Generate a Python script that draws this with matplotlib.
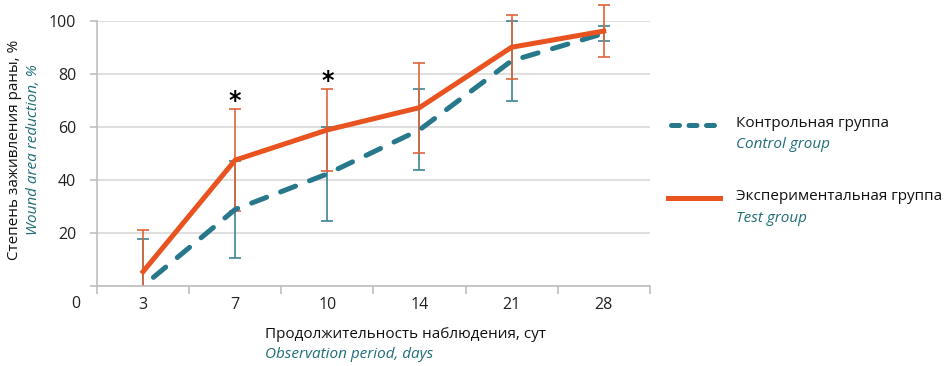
import matplotlib.pyplot as plt
from matplotlib.patches import Rectangle

ORANGE = "#E8531F"
ORANGE_ERR = "#E0643A"
TEAL = "#26788A"
TEAL_ERR = "#3C8494"
TEAL_TXT = "#1E6D78"
GRID = "#D9D9D9"
SPINE = "#BFBFBF"

plt.rcParams.update({"font.family": ["Open Sans", "DejaVu Sans"], "font.size": 11})

days = ["3", "7", "10", "14", "21", "28"]
control = [0, 28.9, 42.3, 58.9, 85.0, 95.3]
control_sd = [17.6, 18.2, 17.6, 15.3, 15.1, 2.8]
test = [5.4, 47.5, 58.9, 67.3, 90.1, 96.2]
test_sd = [15.7, 19.2, 15.4, 17.0, 12.0, 9.8]
star_days = [1, 2]
star_y = [70, 77.5]

fig = plt.figure(figsize=(9.45, 3.66), dpi=100)
ax = fig.add_axes([0.1026, 0.2186, 0.585, 0.724])
x = list(range(len(days)))

# error bars may poke above 100 but stop at the x axis
clip = Rectangle((-0.5, 0), 6, 130, transform=ax.transData)
for mean, sd, col in [(control, control_sd, TEAL_ERR), (test, test_sd, ORANGE_ERR)]:
    eb = ax.errorbar(x, mean, yerr=sd, fmt="none", ecolor=col, elinewidth=1.2,
                     capsize=4.5, capthick=1.2, zorder=2)
    for art in list(eb.lines[1]) + list(eb.lines[2]):
        art.set_clip_path(clip)

ax.plot(x, control, color=TEAL, lw=3.6, ls=(3.5, (3.2, 3.0)), dash_capstyle="round",
        zorder=3)
ax.plot(x, test, color=ORANGE, lw=3.6, zorder=4, solid_joinstyle="miter")

for d, yy in zip(star_days, star_y):
    ax.text(d, yy, "*", ha="center", va="center", fontsize=17, fontweight="bold",
            family="DejaVu Sans")

ax.set_xlim(-0.5, 5.5)
ax.set_ylim(0, 100)
ax.set_yticks([0, 20, 40, 60, 80, 100])
ax.set_yticklabels(["", "20", "40", "60", "80", "100"])
ax.text(-0.68, -6.8, "0", ha="right", va="center", fontsize=11.5, color="#222222")
ax.set_xticks([i + 0.5 for i in range(-1, 6)], minor=False)
ax.set_xticklabels([])
ax.set_xticks(x, minor=True)
ax.set_xticklabels(days, minor=True)
ax.tick_params(axis="x", which="major", length=6, color=SPINE, width=1.2)
ax.tick_params(axis="x", which="minor", length=0, pad=8, labelsize=11.5, labelcolor="#222222")
ax.tick_params(axis="y", length=5, color=SPINE, width=1.2, pad=10, labelsize=11.5,
               labelcolor="#222222")
ax.grid(axis="y", color=GRID, lw=1.2)
ax.set_axisbelow(True)
for s in ["top", "right"]:
    ax.spines[s].set_visible(False)
for s in ["left", "bottom"]:
    ax.spines[s].set_color(SPINE)
    ax.spines[s].set_linewidth(1.2)

# axis titles
fig.text(0.015, 0.59, "Степень заживления раны, %", rotation=90, ha="center", va="center",
         fontsize=11, color="#111111")
fig.text(0.035, 0.59, "Wound area reduction, %", rotation=90, ha="center", va="center",
         fontsize=11, color=TEAL_TXT, style="italic")
fig.text(0.28, 0.085, "Продолжительность наблюдения, сут", ha="left", va="center",
         fontsize=11, color="#111111")
fig.text(0.28, 0.032, "Observation period, days", ha="left", va="center",
         fontsize=11, color=TEAL_TXT, style="italic")

# legend
fig.add_artist(plt.Line2D([0.710, 0.759], [0.658, 0.658], color=TEAL, lw=3.6,
                          ls=(0, (1.6, 1.9)), dash_capstyle="round",
                          transform=fig.transFigure))
fig.text(0.779, 0.663, "Контрольная группа", ha="left", va="center", fontsize=11, color="#111111")
fig.text(0.779, 0.605, "Control group", ha="left", va="center", fontsize=11, color=TEAL_TXT,
         style="italic")
fig.add_artist(plt.Line2D([0.707, 0.762], [0.459, 0.459], color=ORANGE, lw=3.6,
                          transform=fig.transFigure))
fig.text(0.779, 0.462, "Экспериментальная группа", ha="left", va="center", fontsize=11,
         color="#111111")
fig.text(0.779, 0.402, "Test group", ha="left", va="center", fontsize=11, color=TEAL_TXT,
         style="italic")

fig.savefig("out.png", dpi=100)
